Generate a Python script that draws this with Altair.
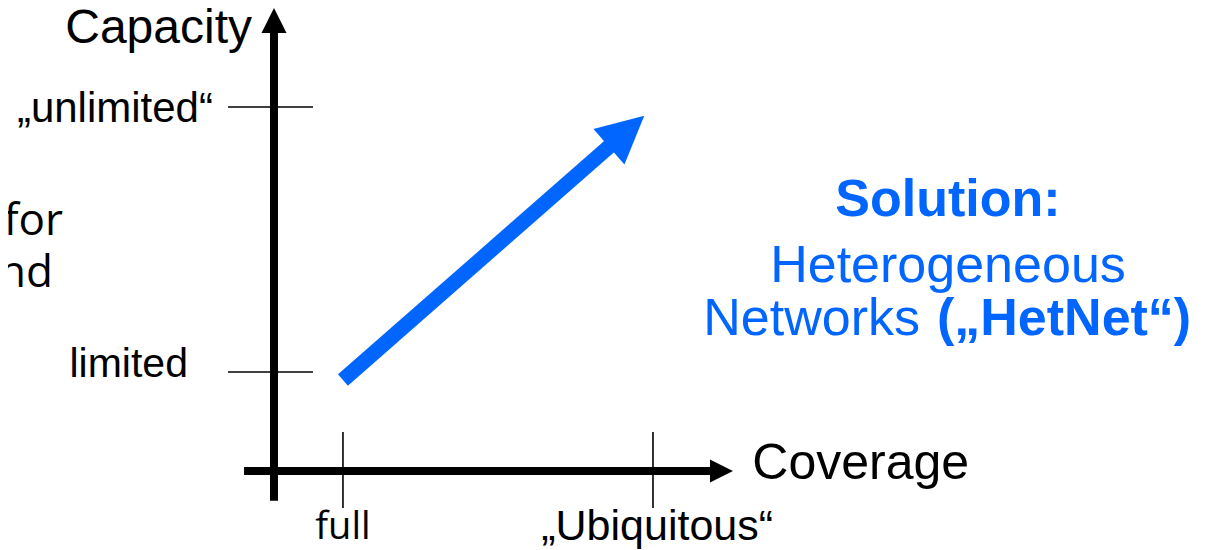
import math
import altair as alt
import pandas as pd

# ---- values (conceptual units: axes cross at (0, 0); "Ubiquitous" = 1, "unlimited" = 1) ----
coverage_labels = ["full", "„Ubiquitous“"]
coverage_ticks = [0.182, 1.0]
capacity_labels = ["limited", "„unlimited“"]
capacity_ticks = [0.272, 1.0]
arrow_start = [0.182, 0.25]
arrow_end = [0.976, 0.975]

axis_titles = ["Capacity", "Coverage"]
side_fragments = ["for", "nd"]
solution_title = "Solution:"
solution_line1 = "Heterogeneous"
solution_line2a = "Networks"
solution_line2b = "(„HetNet“)"

# ---- layout ----
W, H = 1197, 542
X_DOMAIN = [-0.7018, 2.4565]
Y_DOMAIN = [-0.2170, 1.2720]
BLUE = "#0066ff"
SANS = "Liberation Sans"

xs = alt.Scale(domain=X_DOMAIN, nice=False, zero=False)
ys = alt.Scale(domain=Y_DOMAIN, nice=False, zero=False)

sx = W / (X_DOMAIN[1] - X_DOMAIN[0])
sy = H / (Y_DOMAIN[1] - Y_DOMAIN[0])


def X(f="x"):
    return alt.X(f"{f}:Q", scale=xs, axis=None)


def Y(f="y"):
    return alt.Y(f"{f}:Q", scale=ys, axis=None)


def rules(df, width, color):
    return alt.Chart(df).mark_rule(strokeWidth=width, color=color, strokeCap="butt").encode(
        x=X(), y=Y(), x2="x2:Q", y2="y2:Q"
    )


def head(x, y, path, size, angle, color):
    return alt.Chart(pd.DataFrame({"x": [x], "y": [y]})).mark_point(
        shape=path, size=size, angle=angle, filled=True, color=color,
        opacity=1, strokeWidth=0
    ).encode(x=X(), y=Y())


def label(texts, xs_, ys_, size, align="left", font=SANS, weight="normal", color="black"):
    df = pd.DataFrame({"t": texts, "x": xs_, "y": ys_})
    return alt.Chart(df).mark_text(
        align=align, baseline="alphabetic", font=font, fontSize=size,
        fontWeight=weight, color=color
    ).encode(x=X(), y=Y(), text="t:N")


# axes (thick black arrows)
axes_df = pd.DataFrame({
    "x": [0.0, -0.079], "y": [-0.082, 0.0],
    "x2": [0.0, 1.156], "y2": [1.212, 0.0],
})
axes = rules(axes_df, 8, "black")
y_head = head(0.0, 1.2376, "M0,-1L1,1L-1,1Z", 625, 0, "black")
x_head = head(1.1807, 0.0, "M1,0L-1,1L-1,-1Z", 529, 0, "black")

# tick marks
tick_df = pd.DataFrame({
    "x": [-0.1214] * len(capacity_ticks) + coverage_ticks,
    "x2": [0.1029] * len(capacity_ticks) + coverage_ticks,
    "y": capacity_ticks + [0.1071] * len(coverage_ticks),
    "y2": capacity_ticks + [-0.1016] * len(coverage_ticks),
})
ticks = rules(tick_df, 1.6, "black")

# blue arrow
dxp = (arrow_end[0] - arrow_start[0]) * sx
dyp = (arrow_end[1] - arrow_start[1]) * sy
L = math.hypot(dxp, dyp)
angle = math.degrees(math.atan2(dxp, dyp))
head_len = 46.0
f_shaft = 1 - (head_len - 10) / L
f_center = 1 - (head_len / 2) / L
shaft_df = pd.DataFrame({
    "x": [arrow_start[0]], "y": [arrow_start[1]],
    "x2": [arrow_start[0] + f_shaft * (arrow_end[0] - arrow_start[0])],
    "y2": [arrow_start[1] + f_shaft * (arrow_end[1] - arrow_start[1])],
})
shaft = rules(shaft_df, 15, BLUE)
blue_head = head(
    arrow_start[0] + f_center * (arrow_end[0] - arrow_start[0]),
    arrow_start[1] + f_center * (arrow_end[1] - arrow_start[1]),
    "M0,-1L1,1L-1,1Z", 2209, angle, BLUE,
)

# texts
t_capacity = label([axis_titles[0]], [-0.058], [1.1758], 48, align="right")
t_coverage = label([axis_titles[1]], [1.262], [-0.022], 50, align="left")
t_unlim = label([capacity_labels[1]], [-0.161], [0.9588], 42, align="right")
t_lim = label([capacity_labels[0]], [-0.2269], [0.2582], 41, align="right")
t_full = label([coverage_labels[0]], [coverage_ticks[0]], [-0.1868], 38, align="center", font="Open Sans")
t_ubiq = label([coverage_labels[1]], [coverage_ticks[1] + 0.011], [-0.1896], 43, align="center")
t_side = label(side_fragments, [-0.5567, -0.5831], [0.6484, 0.5055], 44, align="right", font="Open Sans")

t_sol = label([solution_title], [1.7784], [0.7005], 52, align="center", weight="bold", color=BLUE)
t_het = label([solution_line1], [1.7784], [0.5192], 52, align="center", color=BLUE)
t_net = label([solution_line2a], [1.7045], [0.3736], 52, align="right", color=BLUE)
t_hn = label([solution_line2b], [1.7493], [0.3736], 52, align="left", weight="bold", color=BLUE)

chart = alt.layer(
    ticks, axes, y_head, x_head, shaft, blue_head,
    t_capacity, t_coverage, t_unlim, t_lim, t_full, t_ubiq, t_side,
    t_sol, t_het, t_net, t_hn,
).properties(
    width=W, height=H, padding=0,
    autosize=alt.AutoSizeParams(type="none"),
    background="white",
).configure_view(stroke=None)

chart.save("out.html", embed_options={"renderer": "svg", "actions": False})
